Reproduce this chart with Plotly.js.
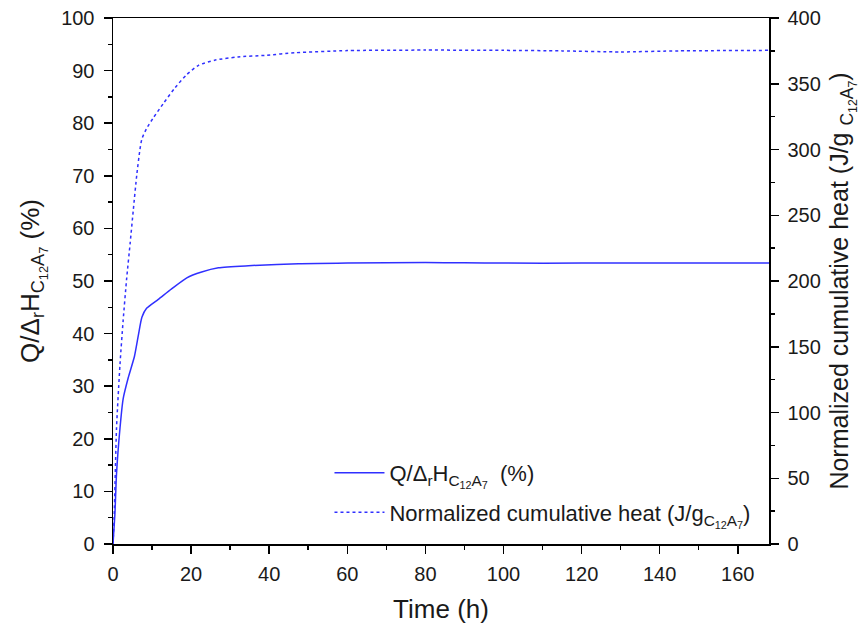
<!DOCTYPE html>
<html>
<head>
<meta charset="utf-8">
<script src="https://cdn.plot.ly/plotly-3.0.1.min.js"></script>
<style>html,body{margin:0;padding:0;background:#fff;}#chart{width:866px;height:632px;}</style>
</head>
<body>
<div id="chart"></div>
<script>
// Q/ΔrH (%) vs time (h)
const timeQ = [0, 0.5, 0.9, 1.8, 2.6, 3.9, 5.5, 6.5, 7.4, 8.6, 11.6, 15, 18.9, 22.7, 27, 34.7, 47.5, 60, 80, 90, 100, 120, 140, 168];
const valQ  = [0, 5.9, 13.3, 22.1, 27.6, 31.6, 35.7, 39.7, 43.1, 44.8, 46.5, 48.5, 50.6, 51.7, 52.5, 52.9, 53.3, 53.4, 53.5, 53.45, 53.4, 53.4, 53.4, 53.4];
// Normalized cumulative heat (J/g C12A7) vs time (h)
const timeH = [0, 0.3, 0.9, 1.8, 2.6, 3.5, 4.4, 5.2, 6.1, 6.9, 7.4, 8.6, 10.3, 12.9, 15.9, 18.9, 21.9, 26.2, 32, 39, 46.7, 60, 80, 100, 115, 130, 145, 168];
const valH  = [0, 20.8, 88, 137, 170, 202, 229, 254, 281, 300, 308, 316, 324, 335, 347, 357, 364, 368, 370.4, 371.6, 373.6, 375.2, 375.6, 375.4, 375, 374.2, 375, 375.4];

const xTickVals = [0, 20, 40, 60, 80, 100, 120, 140, 160];
const yLeftTicks = [0, 10, 20, 30, 40, 50, 60, 70, 80, 90, 100];
const yRightTicks = [0, 50, 100, 150, 200, 250, 300, 350, 400];

const blue = '#3030ff';
const font = 'Liberation Sans, Arial, sans-serif';
const txt = '#1a1a1a';

const traces = [
  {x: timeQ, y: valQ, type: 'scatter', mode: 'lines', yaxis: 'y', legendgroup: 'a',
   line: {color: blue, width: 1.5, shape: 'spline', smoothing: 0.6},
   name: 'Q/Δ<sub>r</sub>H<sub>C<sub>12</sub>A<sub>7</sub></sub>  (%)'},
  {x: timeH, y: valH, type: 'scatter', mode: 'lines', yaxis: 'y2', legendgroup: 'b',
   line: {color: blue, width: 1.5, dash: 'dot', shape: 'spline', smoothing: 0.6},
   name: 'Normalized cumulative heat (J/g<sub>C<sub>12</sub>A<sub>7</sub></sub>)'}
];

const axisCommon = {
  showline: true, linecolor: '#000', linewidth: 1.5,
  ticks: 'outside', ticklen: 8, tickwidth: 1.5, tickcolor: '#000',
  showgrid: false, zeroline: false,
  tickfont: {family: font, size: 20, color: txt},
  minor: {ticks: 'outside', ticklen: 4, tickwidth: 1.5, tickcolor: '#000', showgrid: false}
};

const layout = {
  width: 866, height: 632,
  margin: {l: 113, r: 97, t: 18, b: 88},
  paper_bgcolor: '#fff', plot_bgcolor: '#fff',
  font: {family: font, color: txt},
  showlegend: true,
  legend: {x: 0.33, y: 0.175, xanchor: 'left', yanchor: 'top',
           bgcolor: 'rgba(0,0,0,0)', font: {family: font, size: 22, color: txt},
           itemwidth: 50, tracegroupgap: 8},
  xaxis: Object.assign({}, axisCommon, {
    range: [0, 168], tickvals: xTickVals, ticktext: xTickVals.map(String),
    mirror: true, ticklabelstandoff: 3,
    minor: Object.assign({}, axisCommon.minor, {dtick: 10, tick0: 0}),
    title: {text: 'Time (h)', font: {family: font, size: 26, color: txt}, standoff: 16}
  }),
  yaxis: Object.assign({}, axisCommon, {
    range: [0, 100], tickvals: yLeftTicks, ticktext: yLeftTicks.map(String),
    ticklabelstandoff: 5,
    minor: Object.assign({}, axisCommon.minor, {dtick: 5, tick0: 0}),
    title: {text: 'Q/Δ<sub>r</sub>H<sub>C<sub>12</sub>A<sub>7</sub></sub> (%)', font: {family: font, size: 26, color: txt}, standoff: 14}
  }),
  yaxis2: Object.assign({}, axisCommon, {
    overlaying: 'y', side: 'right', anchor: 'x',
    range: [0, 400], tickvals: yRightTicks, ticktext: yRightTicks.map(String),
    ticklabelstandoff: 5,
    minor: Object.assign({}, axisCommon.minor, {dtick: 25, tick0: 0}),
    title: {text: 'Normalized cumulative heat (J/g <sub>C<sub>12</sub>A<sub>7</sub></sub>)', font: {family: font, size: 25, color: txt}, standoff: 10}
  })
};

Plotly.newPlot('chart', traces, layout, {displayModeBar: false, staticPlot: true});
</script>
</body>
</html>
